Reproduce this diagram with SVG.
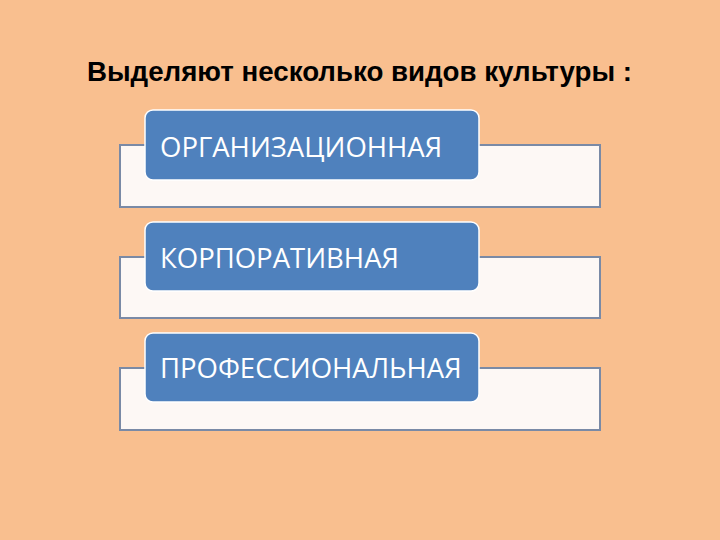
<svg xmlns="http://www.w3.org/2000/svg" width="720" height="540" viewBox="0 0 720 540">
<style>
.bg{fill:#F9BF8F}
.back{fill:#FDF8F5;stroke:#7A8AA6;stroke-width:2}
.tab{fill:#4F81BD;stroke:#FFFFFF;stroke-width:1.5}
.lbl{fill:#FFFFFF;font-family:"Open Sans","DejaVu Sans",sans-serif;font-size:27.5px}
.title{fill:#000;font-family:"Liberation Sans",Arial,sans-serif;font-weight:bold;font-size:27px}
</style>
<rect class="bg" x="0" y="0" width="720" height="540"/>
<text class="title" x="87" y="81" textLength="545" lengthAdjust="spacingAndGlyphs">Выделяют несколько видов культуры :</text>
<g id="n1">
<rect class="back" x="120" y="145" width="480" height="62"/>
<rect class="tab" x="145" y="110" width="334" height="70" rx="8"/>
<text class="lbl" x="160" y="157">ОРГАНИЗАЦИОННАЯ</text>
</g>
<g id="n2">
<rect class="back" x="120" y="257" width="480" height="61"/>
<rect class="tab" x="145" y="222" width="334" height="69" rx="8"/>
<text class="lbl" x="160" y="268">КОРПОРАТИВНАЯ</text>
</g>
<g id="n3">
<rect class="back" x="120" y="368" width="480" height="62"/>
<rect class="tab" x="145" y="333" width="334" height="69" rx="8"/>
<text class="lbl" x="160" y="378">ПРОФЕССИОНАЛЬНАЯ</text>
</g>
<g id="connectors"/>
</svg>
